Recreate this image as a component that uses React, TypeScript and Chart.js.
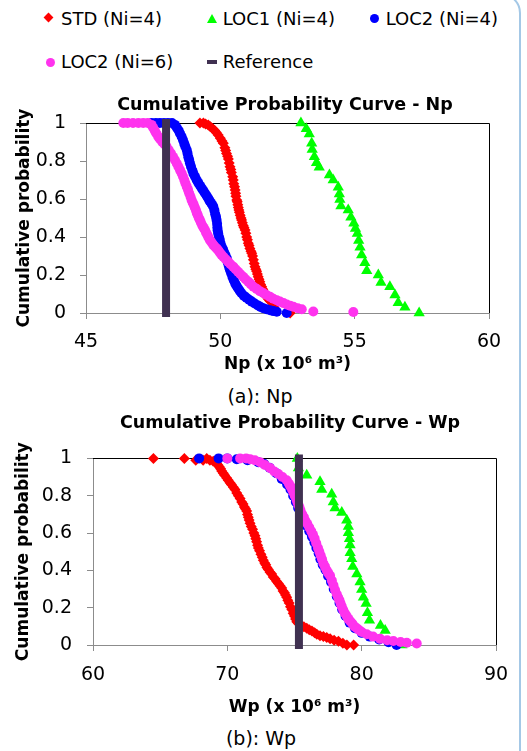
import React, { useEffect, useRef } from "react";
import { Chart, registerables } from "chart.js";

Chart.register(...registerables);

const FONT = "'DejaVu Sans', sans-serif";
const AXIS_COLOR = "#8c8c8c";
const RED = "#ff0000";
const GREEN = "#00ff00";
const BLUE = "#0000ff";
const PINK = "#ff33ee";
const REF_COLOR = "#403151";

// ---------- Np (x 10^6 m3): [value, cumulative probability] ----------
const npXTicks = { min: 45, max: 60, step: 5 };

const npStd: [number, number][] = [
  [49.24, 1], [49.37, 1], [49.45, 0.995], [49.55, 0.99], [49.63, 0.98], [49.72, 0.97], [49.79, 0.96], [49.85, 0.95],
  [49.92, 0.937], [50.0, 0.92], [50.06, 0.905], [50.11, 0.893], [50.17, 0.87], [50.2, 0.855], [50.23, 0.84], [50.27, 0.825],
  [50.3, 0.81], [50.33, 0.79], [50.36, 0.77], [50.39, 0.755], [50.41, 0.74], [50.46, 0.717], [50.48, 0.7], [50.5, 0.68],
  [50.53, 0.665], [50.55, 0.647], [50.57, 0.63], [50.58, 0.615], [50.61, 0.595], [50.63, 0.585], [50.65, 0.57], [50.67, 0.555],
  [50.69, 0.542], [50.71, 0.53], [50.74, 0.515], [50.77, 0.5], [50.79, 0.489], [50.82, 0.475], [50.85, 0.46], [50.88, 0.45],
  [50.92, 0.437], [50.95, 0.42], [50.98, 0.4], [51.01, 0.385], [51.04, 0.367], [51.07, 0.355], [51.1, 0.34], [51.14, 0.325],
  [51.17, 0.314], [51.2, 0.3], [51.23, 0.28], [51.26, 0.26], [51.29, 0.244], [51.32, 0.23], [51.35, 0.22], [51.38, 0.205],
  [51.41, 0.191], [51.44, 0.178], [51.47, 0.165], [51.5, 0.15], [51.54, 0.138], [51.58, 0.125], [51.62, 0.11], [51.67, 0.1],
  [51.72, 0.086], [51.78, 0.075], [51.84, 0.065], [51.97, 0.051], [52.0, 0.03], [52.03, 0.015], [52.6, 0],
];

const npLoc1: [number, number][] = [
  [53.0, 1.0], [53.2, 0.97], [53.31, 0.942], [53.4, 0.893], [53.42, 0.861], [53.5, 0.823], [53.58, 0.791], [53.68, 0.767],
  [54.06, 0.726], [54.2, 0.7], [54.39, 0.662], [54.43, 0.626], [54.45, 0.598], [54.49, 0.563], [54.76, 0.542], [54.86, 0.504],
  [54.97, 0.472], [55.03, 0.445], [55.1, 0.419], [55.15, 0.381], [55.2, 0.346], [55.26, 0.305], [55.38, 0.265], [55.45, 0.223],
  [55.88, 0.2], [55.98, 0.16], [56.31, 0.138], [56.5, 0.095], [56.62, 0.054], [56.87, 0.03], [57.4, 0.0],
];

const npLoc2n4: [number, number][] = [
  [47.44, 1], [47.6, 1], [47.75, 1], [47.9, 1], [48.05, 1], [48.2, 1], [48.31, 0.99], [48.38, 0.975],
  [48.45, 0.96], [48.5, 0.945], [48.56, 0.928], [48.61, 0.91], [48.66, 0.89], [48.7, 0.875], [48.75, 0.858], [48.78, 0.84],
  [48.81, 0.82], [48.84, 0.805], [48.87, 0.788], [48.91, 0.77], [48.96, 0.75], [49.0, 0.733], [49.06, 0.717], [49.12, 0.7],
  [49.18, 0.685], [49.25, 0.67], [49.31, 0.656], [49.37, 0.643], [49.43, 0.63], [49.49, 0.617], [49.55, 0.604], [49.6, 0.59],
  [49.65, 0.58], [49.7, 0.57], [49.74, 0.559], [49.78, 0.54], [49.81, 0.52], [49.84, 0.505], [49.86, 0.489], [49.88, 0.47],
  [49.89, 0.45], [49.9, 0.435], [49.92, 0.419], [49.95, 0.4], [49.98, 0.385], [50.01, 0.365], [50.05, 0.349], [50.1, 0.335],
  [50.14, 0.32], [50.19, 0.305], [50.24, 0.288], [50.27, 0.27], [50.3, 0.255], [50.33, 0.24], [50.36, 0.226], [50.4, 0.21],
  [50.45, 0.19], [50.5, 0.173], [50.55, 0.156], [50.6, 0.143], [50.66, 0.13], [50.72, 0.117], [50.79, 0.104], [50.88, 0.09],
  [50.97, 0.08], [51.07, 0.07], [51.17, 0.06], [51.28, 0.05], [51.4, 0.04], [51.5, 0.032], [51.6, 0.025], [51.72, 0.02],
  [51.85, 0.015], [51.97, 0.01], [52.1, 0.007], [52.47, 0],
];

const npLoc2n6: [number, number][] = [
  [46.39, 1], [46.55, 1], [46.75, 1], [46.95, 1], [47.13, 1], [47.3, 1], [47.44, 0.99], [47.5, 0.975],
  [47.56, 0.96], [47.62, 0.945], [47.69, 0.928], [47.76, 0.915], [47.84, 0.9], [47.92, 0.888], [48.0, 0.875], [48.08, 0.858],
  [48.16, 0.84], [48.24, 0.822], [48.31, 0.805], [48.38, 0.787], [48.44, 0.77], [48.5, 0.752], [48.56, 0.735], [48.61, 0.718],
  [48.66, 0.7], [48.7, 0.683], [48.75, 0.665], [48.8, 0.648], [48.84, 0.63], [48.89, 0.612], [48.93, 0.595], [48.97, 0.582],
  [49.01, 0.57], [49.05, 0.555], [49.09, 0.542], [49.12, 0.528], [49.16, 0.515], [49.2, 0.5], [49.24, 0.489], [49.28, 0.475],
  [49.33, 0.46], [49.38, 0.448], [49.43, 0.437], [49.47, 0.423], [49.52, 0.41], [49.56, 0.397], [49.61, 0.384], [49.67, 0.372],
  [49.73, 0.36], [49.79, 0.35], [49.86, 0.34], [49.92, 0.33], [49.98, 0.318], [50.04, 0.307], [50.11, 0.296], [50.2, 0.283],
  [50.29, 0.27], [50.38, 0.257], [50.48, 0.244], [50.57, 0.23], [50.66, 0.217], [50.75, 0.204], [50.85, 0.191], [50.94, 0.178],
  [51.04, 0.165], [51.13, 0.152], [51.23, 0.138], [51.35, 0.127], [51.47, 0.115], [51.6, 0.105], [51.72, 0.095], [51.85, 0.085],
  [51.97, 0.075], [52.1, 0.067], [52.22, 0.06], [52.35, 0.052], [52.47, 0.045], [52.6, 0.038], [52.72, 0.033], [52.88, 0.025],
  [53.03, 0.02], [53.46, 0.008], [54.95, 0.005],
];

const npRefX = 47.98;

// ---------- Wp (x 10^6 m3): [value, cumulative probability] ----------
const wpXTicks = { min: 60, max: 90, step: 10 };

const wpStd: [number, number][] = [
  [64.5, 1], [66.8, 1], [67.65, 0.99], [68.2, 0.99], [68.47, 1], [68.7, 0.99], [68.95, 0.985], [69.21, 0.974],
  [69.3, 0.965], [69.4, 0.955], [69.5, 0.945], [69.58, 0.932], [69.7, 0.92], [69.8, 0.91], [69.95, 0.895], [70.07, 0.883],
  [70.2, 0.87], [70.3, 0.86], [70.45, 0.845], [70.57, 0.833], [70.7, 0.815], [70.82, 0.8], [70.95, 0.785], [71.07, 0.767],
  [71.17, 0.755], [71.27, 0.74], [71.35, 0.73], [71.44, 0.718], [71.5, 0.7], [71.56, 0.685], [71.62, 0.67], [71.69, 0.652],
  [71.78, 0.635], [71.88, 0.62], [71.97, 0.6], [72.06, 0.586], [72.12, 0.57], [72.18, 0.553], [72.25, 0.535], [72.31, 0.52],
  [72.4, 0.505], [72.5, 0.487], [72.6, 0.47], [72.68, 0.454], [72.78, 0.44], [72.86, 0.43], [72.95, 0.415], [73.05, 0.404],
  [73.18, 0.39], [73.3, 0.38], [73.42, 0.365], [73.55, 0.355], [73.68, 0.34], [73.8, 0.33], [73.92, 0.318], [74.05, 0.305],
  [74.15, 0.29], [74.25, 0.28], [74.33, 0.268], [74.42, 0.256], [74.5, 0.24], [74.6, 0.225], [74.7, 0.205], [74.8, 0.19],
  [74.9, 0.17], [75.0, 0.155], [75.08, 0.14], [75.17, 0.124], [75.3, 0.115], [75.5, 0.105], [75.7, 0.098], [75.91, 0.09],
  [76.1, 0.082], [76.3, 0.075], [76.5, 0.065], [76.66, 0.058], [76.9, 0.05], [77.15, 0.045], [77.4, 0.04], [77.65, 0.033],
  [77.95, 0.025], [78.27, 0.02], [78.6, 0.01], [78.9, 0], [79.4, 0],
];

const wpLoc1: [number, number][] = [
  [75.21, 1.0], [75.29, 0.949], [75.91, 0.91], [76.9, 0.875], [77.03, 0.833], [77.77, 0.808], [77.89, 0.767], [78.02, 0.734],
  [78.52, 0.71], [78.89, 0.668], [79.01, 0.635], [79.01, 0.602], [79.09, 0.569], [79.14, 0.536], [79.14, 0.495], [79.26, 0.462],
  [79.34, 0.421], [79.64, 0.38], [79.88, 0.338], [80.0, 0.297], [80.13, 0.256], [80.33, 0.223], [80.43, 0.173], [80.58, 0.132],
  [81.4, 0.105], [81.75, 0.078], [83.0, 0.0],
];

const wpLoc2n4: [number, number][] = [
  [67.9, 1], [69.35, 1], [70.0, 1], [70.7, 0.995], [71.5, 0.99], [72.3, 0.98], [72.75, 0.97], [73.15, 0.95],
  [73.65, 0.92], [74.05, 0.89], [74.45, 0.86], [74.7, 0.833], [74.9, 0.8], [75.1, 0.767], [75.27, 0.734], [75.45, 0.7],
  [75.7, 0.67], [75.85, 0.64], [76.1, 0.61], [76.3, 0.58], [76.48, 0.55], [76.63, 0.52], [76.8, 0.49], [76.93, 0.46],
  [77.1, 0.43], [77.3, 0.404], [77.5, 0.37], [77.72, 0.338], [77.92, 0.3], [78.15, 0.26], [78.35, 0.225], [78.55, 0.19],
  [78.8, 0.155], [79.1, 0.12], [79.5, 0.09], [80.0, 0.065], [80.6, 0.045], [81.3, 0.03], [82.0, 0.015], [82.6, 0],
];

const wpLoc2n6: [number, number][] = [
  [70.0, 1], [70.95, 1], [71.4, 1], [71.7, 0.995], [72.05, 0.99], [72.43, 0.98], [72.8, 0.965], [73.18, 0.949],
  [73.5, 0.93], [73.8, 0.916], [74.1, 0.9], [74.42, 0.883], [74.58, 0.865], [74.7, 0.85], [74.82, 0.833], [74.92, 0.817],
  [75.02, 0.8], [75.15, 0.78], [75.22, 0.765], [75.3, 0.75], [75.38, 0.735], [75.45, 0.72], [75.57, 0.7], [75.7, 0.685],
  [75.82, 0.665], [75.95, 0.65], [76.1, 0.63], [76.25, 0.609], [76.38, 0.59], [76.5, 0.57], [76.62, 0.545], [76.75, 0.52],
  [76.85, 0.5], [76.95, 0.48], [77.05, 0.46], [77.15, 0.437], [77.27, 0.42], [77.4, 0.4], [77.52, 0.385], [77.65, 0.371],
  [77.78, 0.345], [77.9, 0.32], [78.02, 0.295], [78.15, 0.272], [78.25, 0.255], [78.35, 0.24], [78.43, 0.222], [78.52, 0.206],
  [78.63, 0.188], [78.75, 0.17], [78.88, 0.155], [79.01, 0.14], [79.15, 0.127], [79.3, 0.115], [79.45, 0.1], [79.64, 0.09],
  [79.8, 0.08], [80.0, 0.07], [80.38, 0.058], [80.85, 0.045], [81.37, 0.033], [81.9, 0.025], [82.36, 0.021], [82.9, 0.016],
  [83.36, 0.012], [84.1, 0.008],
];

const wpRefX = 75.33;
const refP = [0, 1];

// ---------- helpers ----------
const toPoints = (pairs: [number, number][]) => pairs.map(([x, y]) => ({ x, y }));

const markerSet = (label: string, pairs: [number, number][], color: string, style: string, radius: number, order: number) => ({
  label,
  data: toPoints(pairs),
  pointStyle: style,
  pointRadius: radius,
  pointBackgroundColor: color,
  pointBorderColor: color,
  pointBorderWidth: 0,
  backgroundColor: color,
  borderColor: color,
  showLine: false,
  clip: false,
  order,
});

const refSet = (x: number) => ({
  label: "Reference",
  data: refP.map((p) => ({ x, y: p })),
  showLine: true,
  borderColor: REF_COLOR,
  backgroundColor: REF_COLOR,
  borderWidth: 8,
  borderCapStyle: "square",
  pointRadius: 0,
  clip: false,
  order: 0,
});

const framePlugin = {
  id: "frame",
  beforeDatasetsDraw(chart: any) {
    const { ctx, chartArea: a } = chart;
    ctx.save();
    ctx.strokeStyle = "#000";
    ctx.lineWidth = 1;
    ctx.beginPath();
    ctx.moveTo(a.left, Math.round(a.top) + 0.5);
    ctx.lineTo(Math.round(a.right) + 0.5, Math.round(a.top) + 0.5);
    ctx.lineTo(Math.round(a.right) + 0.5, a.bottom);
    ctx.stroke();
    ctx.restore();
  },
};

interface PanelSpec {
  width: number;
  height: number;
  pad: { left: number; top: number; right: number; bottom: number };
  yWidth: number;
  xHeight: number;
  xRange: { min: number; max: number; step: number };
  xTitle: string;
  xTickPad: number;
  yTickPad: number;
  yTitlePad: number;
  xTitlePad: number;
  datasets: any[];
}

function Panel({ spec, left, top }: { spec: PanelSpec; left: number; top: number }) {
  const ref = useRef<HTMLCanvasElement | null>(null);
  useEffect(() => {
    if (!ref.current) return;
    const tickFont = { family: FONT, size: 19 };
    const titleFont = { family: FONT, size: 17, weight: "bold" as const };
    const chart = new Chart(ref.current, {
      type: "scatter",
      data: { datasets: spec.datasets },
      plugins: [framePlugin],
      options: {
        animation: false,
        responsive: false,
        maintainAspectRatio: false,
        devicePixelRatio: 1,
        events: [],
        layout: { padding: spec.pad },
        plugins: {
          legend: { display: false },
          tooltip: { enabled: false },
          title: { display: false },
        },
        scales: {
          x: {
            type: "linear",
            min: spec.xRange.min,
            max: spec.xRange.max,
            ticks: {
              stepSize: spec.xRange.step,
              padding: spec.xTickPad,
              color: "#000",
              font: tickFont,
              maxRotation: 0,
              autoSkip: false,
            },
            grid: { drawOnChartArea: false, drawTicks: true, tickLength: 6, color: AXIS_COLOR, z: -1 },
            border: { display: true, color: AXIS_COLOR, width: 1 },
            title: {
              display: true,
              text: spec.xTitle,
              color: "#000",
              font: titleFont,
              padding: { top: 0, bottom: spec.xTitlePad },
            },
            afterFit: (s: any) => {
              s.height = spec.xHeight;
            },
          },
          y: {
            type: "linear",
            min: 0,
            max: 1,
            ticks: {
              stepSize: 0.2,
              padding: spec.yTickPad,
              color: "#000",
              font: tickFont,
              callback: (v: any) => String(Math.round(Number(v) * 10) / 10),
            },
            grid: { drawOnChartArea: false, drawTicks: true, tickLength: 6, color: AXIS_COLOR, z: -1 },
            border: { display: true, color: AXIS_COLOR, width: 1 },
            title: {
              display: true,
              text: "Cumulative probability",
              color: "#000",
              font: titleFont,
              padding: { top: spec.yTitlePad, bottom: 0 },
            },
            afterFit: (s: any) => {
              s.width = spec.yWidth;
            },
          },
        },
      } as any,
    });
    return () => chart.destroy();
  }, [spec]);
  return (
    <canvas
      ref={ref}
      width={spec.width}
      height={spec.height}
      style={{ position: "absolute", left, top, width: spec.width, height: spec.height }}
    />
  );
}

const npSpec: PanelSpec = {
  width: 527,
  height: 283,
  pad: { left: 0, top: 31, right: 38, bottom: 0 },
  yWidth: 86,
  xHeight: 62,
  xRange: npXTicks,
  xTitle: "Np (x 10\u2076 m\u00b3)",
  xTickPad: 12,
  yTickPad: 14,
  yTitlePad: 14,
  xTitlePad: 0.6,
  datasets: [
    markerSet("STD (Ni=4)", npStd, RED, "rectRot", 5.5, 4),
    markerSet("LOC1 (Ni=4)", npLoc1, GREEN, "triangle", 6.5, 3),
    markerSet("LOC2 (Ni=4)", npLoc2n4, BLUE, "circle", 5, 2),
    markerSet("LOC2 (Ni=6)", npLoc2n6, PINK, "circle", 5, 1),
    refSet(npRefX),
  ],
};

const wpSpec: PanelSpec = {
  width: 527,
  height: 288,
  pad: { left: 0, top: 11, right: 31, bottom: 0 },
  yWidth: 93,
  xHeight: 75,
  xRange: wpXTicks,
  xTitle: "Wp (x 10\u2076 m\u00b3)",
  xTickPad: 13,
  yTickPad: 15,
  yTitlePad: 13,
  xTitlePad: 2.6,
  datasets: [
    markerSet("STD (Ni=4)", wpStd, RED, "rectRot", 5.5, 4),
    markerSet("LOC1 (Ni=4)", wpLoc1, GREEN, "triangle", 6.5, 3),
    markerSet("LOC2 (Ni=4)", wpLoc2n4, BLUE, "circle", 5, 2),
    markerSet("LOC2 (Ni=6)", wpLoc2n6, PINK, "circle", 5, 1),
    refSet(wpRefX),
  ],
};

const textBase: React.CSSProperties = {
  position: "absolute",
  fontFamily: FONT,
  lineHeight: "24px",
  whiteSpace: "nowrap",
  color: "#000",
};

function Label({ x, y, size, bold, center, children }: any) {
  return (
    <div
      style={{
        ...textBase,
        left: x,
        top: y - 12,
        fontSize: size,
        fontWeight: bold ? "bold" : "normal",
        transform: center ? "translateX(-50%)" : undefined,
      }}
    >
      {children}
    </div>
  );
}

export default function App() {
  return (
    <div style={{ position: "absolute", left: 0, top: 0, width: 527, height: 751, overflow: "hidden", background: "#fff" }}>
      {/* rounded frame edge */}
      <div
        style={{
          position: "absolute",
          left: -60,
          top: -7,
          width: 581,
          height: 820,
          boxSizing: "border-box",
          border: "2px solid #a4c8e6",
          borderRadius: 20,
        }}
      />
      <Panel spec={npSpec} left={0} top={92} />
      <Panel spec={wpSpec} left={0} top={432} />

      {/* legend */}
      <div style={{ position: "absolute", left: 45, top: 14, width: 7, height: 7, background: RED, transform: "rotate(45deg)" }} />
      <Label x={61} y={19.3} size={18}>STD (Ni=4)</Label>
      <div
        style={{
          position: "absolute",
          left: 207,
          top: 13.5,
          width: 0,
          height: 0,
          borderLeft: "5px solid transparent",
          borderRight: "5px solid transparent",
          borderBottom: `9px solid ${GREEN}`,
        }}
      />
      <Label x={222.7} y={19.3} size={18}>LOC1 (Ni=4)</Label>
      <div style={{ position: "absolute", left: 369.5, top: 14, width: 9, height: 9, borderRadius: "50%", background: BLUE }} />
      <Label x={385.7} y={19.3} size={18}>LOC2 (Ni=4)</Label>
      <div style={{ position: "absolute", left: 45.5, top: 57.5, width: 9, height: 9, borderRadius: "50%", background: PINK }} />
      <Label x={61} y={62.3} size={18}>LOC2 (Ni=6)</Label>
      <div style={{ position: "absolute", left: 207, top: 60, width: 10, height: 4, background: REF_COLOR }} />
      <Label x={222.7} y={62.3} size={18}>Reference</Label>

      {/* titles and captions */}
      <Label x={285} y={104} size={17.5} bold center>Cumulative Probability Curve - Np</Label>
      <Label x={260} y={396} size={19} center>(a): Np</Label>
      <Label x={290} y={422} size={17.5} bold center>Cumulative Probability Curve - Wp</Label>
      <Label x={261} y={738} size={19} center>(b): Wp</Label>
    </div>
  );
}
